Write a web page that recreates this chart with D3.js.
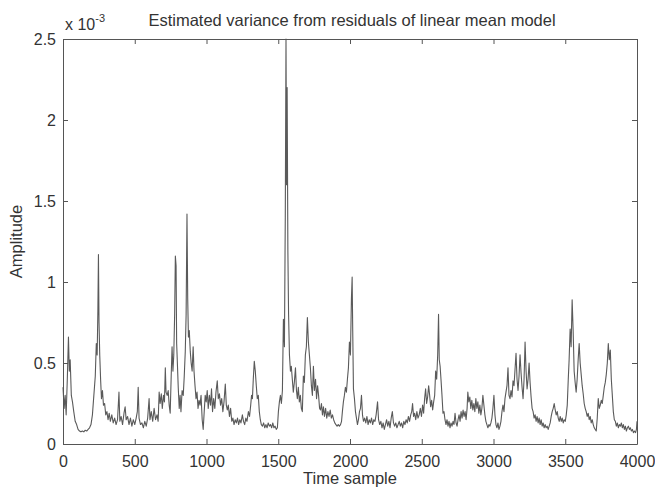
<!DOCTYPE html>
<html>
<head>
<meta charset="utf-8">
<script src="https://cdn.jsdelivr.net/npm/d3@7"></script>
<style>
  body { margin: 0; background: #fff; }
  svg text { font-family: "Liberation Sans", Arial, sans-serif; fill: #333; }
</style>
</head>
<body>
<svg id="chart" width="655" height="491"></svg>
<script>
// values, amplitude in units of 1e-3
const sampleIdx = [0,8,15,22,30,38,44,50,58,66,75,85,95,105,115,125,135,145,155,165,175,185,195,205,215,225,232,238,243,247,251,256,262,268,275,282,290,298,306,314,322,330,340,350,360,370,380,390,396,405,415,425,433,440,450,460,470,480,490,500,510,518,524,530,540,550,560,570,580,590,600,606,615,625,635,645,655,663,670,677,685,692,700,707,713,718,726,733,740,747,754,760,766,772,778,783,788,792,797,803,810,816,822,830,838,845,852,858,864,869,874,880,887,893,900,907,913,920,927,934,941,948,955,962,970,977,984,991,998,1005,1012,1020,1028,1035,1042,1050,1058,1066,1075,1082,1090,1098,1106,1114,1122,1131,1138,1145,1152,1160,1168,1176,1184,1192,1200,1208,1216,1224,1232,1240,1250,1258,1266,1274,1282,1292,1300,1308,1314,1320,1326,1333,1340,1347,1354,1361,1368,1375,1382,1390,1398,1406,1414,1422,1430,1438,1446,1454,1462,1470,1478,1486,1494,1501,1508,1515,1522,1529,1536,1543,1549,1554,1558,1562,1567,1572,1578,1585,1591,1598,1605,1612,1620,1627,1633,1640,1647,1654,1661,1668,1675,1682,1689,1696,1703,1710,1717,1724,1731,1738,1745,1752,1760,1767,1774,1781,1788,1794,1801,1808,1815,1822,1830,1838,1846,1854,1862,1870,1878,1886,1894,1902,1910,1918,1926,1934,1941,1947,1954,1961,1968,1975,1982,1989,1996,2003,2010,2015,2019,2024,2031,2038,2045,2052,2059,2066,2073,2080,2087,2094,2102,2110,2118,2126,2134,2142,2150,2158,2166,2174,2182,2192,2199,2207,2215,2223,2231,2239,2247,2255,2263,2271,2279,2287,2295,2303,2311,2319,2327,2335,2343,2351,2359,2367,2375,2383,2391,2399,2407,2415,2423,2430,2436,2443,2450,2458,2466,2474,2482,2490,2498,2506,2513,2520,2527,2534,2541,2548,2555,2562,2569,2576,2583,2590,2597,2604,2611,2617,2622,2628,2634,2641,2648,2655,2662,2669,2676,2683,2690,2697,2704,2711,2718,2725,2732,2739,2746,2753,2760,2767,2774,2781,2788,2795,2802,2809,2816,2821,2828,2835,2842,2849,2856,2863,2870,2877,2884,2891,2898,2905,2912,2919,2926,2933,2940,2947,2954,2961,2968,2975,2982,2989,2996,3003,3010,3017,3024,3031,3038,3045,3052,3059,3066,3073,3080,3087,3094,3101,3108,3115,3122,3129,3136,3143,3150,3157,3164,3171,3178,3185,3192,3199,3206,3213,3220,3227,3234,3241,3248,3255,3262,3269,3276,3283,3290,3297,3304,3311,3318,3325,3332,3339,3346,3353,3360,3367,3374,3381,3388,3395,3402,3409,3416,3423,3430,3437,3444,3451,3458,3465,3472,3479,3486,3493,3500,3507,3514,3521,3527,3534,3541,3548,3555,3562,3569,3576,3583,3590,3597,3604,3611,3618,3625,3632,3639,3646,3653,3660,3667,3674,3681,3688,3695,3702,3709,3716,3723,3730,3737,3744,3751,3758,3765,3772,3779,3786,3793,3800,3807,3814,3821,3828,3835,3842,3849,3856,3863,3870,3877,3884,3891,3898,3905,3912,3919,3926,3933,3940,3947,3954,3961,3968,3975,3982,3990,3996,4000];
const amplitude = [0.35,0.22,0.30,0.18,0.40,0.66,0.45,0.52,0.30,0.26,0.20,0.14,0.12,0.09,0.08,0.075,0.08,0.075,0.085,0.08,0.09,0.10,0.12,0.18,0.30,0.42,0.62,0.55,0.82,1.17,0.75,0.55,0.40,0.28,0.33,0.24,0.25,0.18,0.20,0.15,0.19,0.14,0.18,0.13,0.16,0.12,0.15,0.32,0.14,0.17,0.12,0.19,0.23,0.15,0.17,0.12,0.16,0.11,0.15,0.12,0.16,0.20,0.35,0.16,0.12,0.13,0.10,0.14,0.11,0.16,0.28,0.15,0.20,0.14,0.22,0.15,0.18,0.14,0.32,0.25,0.31,0.22,0.30,0.26,0.47,0.32,0.30,0.33,0.24,0.19,0.42,0.60,0.45,0.55,0.80,1.16,1.10,0.62,0.50,0.35,0.22,0.30,0.20,0.33,0.30,0.42,0.57,0.80,1.42,0.90,0.66,0.70,0.57,0.50,0.45,0.60,0.45,0.36,0.28,0.32,0.22,0.27,0.24,0.30,0.15,0.09,0.20,0.30,0.26,0.33,0.22,0.30,0.24,0.34,0.20,0.28,0.22,0.32,0.39,0.28,0.31,0.24,0.28,0.20,0.26,0.37,0.24,0.21,0.24,0.17,0.22,0.14,0.16,0.12,0.15,0.13,0.16,0.12,0.15,0.13,0.18,0.14,0.12,0.16,0.14,0.20,0.17,0.24,0.30,0.28,0.40,0.51,0.45,0.36,0.28,0.30,0.20,0.15,0.12,0.11,0.13,0.10,0.12,0.10,0.13,0.11,0.12,0.10,0.13,0.10,0.11,0.09,0.10,0.20,0.26,0.30,0.25,0.33,0.77,0.60,1.40,2.50,1.60,2.20,1.20,0.80,0.55,0.45,0.48,0.40,0.32,0.38,0.47,0.33,0.28,0.35,0.26,0.30,0.22,0.20,0.42,0.38,0.55,0.60,0.78,0.63,0.55,0.47,0.36,0.30,0.48,0.33,0.40,0.28,0.36,0.30,0.22,0.21,0.25,0.18,0.23,0.17,0.22,0.16,0.20,0.17,0.21,0.16,0.18,0.15,0.13,0.12,0.11,0.12,0.11,0.12,0.14,0.20,0.26,0.30,0.35,0.32,0.40,0.47,0.63,0.55,0.90,1.03,0.70,0.34,0.28,0.20,0.16,0.12,0.15,0.20,0.22,0.30,0.18,0.14,0.16,0.13,0.17,0.12,0.15,0.13,0.16,0.12,0.15,0.14,0.18,0.26,0.15,0.12,0.14,0.10,0.13,0.09,0.12,0.15,0.11,0.14,0.10,0.16,0.20,0.13,0.11,0.13,0.10,0.12,0.14,0.11,0.13,0.10,0.14,0.12,0.15,0.13,0.17,0.14,0.18,0.20,0.25,0.17,0.19,0.15,0.20,0.16,0.18,0.22,0.17,0.24,0.19,0.28,0.34,0.25,0.29,0.36,0.30,0.23,0.27,0.21,0.26,0.30,0.45,0.40,0.55,0.80,0.52,0.48,0.40,0.30,0.19,0.20,0.15,0.12,0.15,0.11,0.14,0.10,0.13,0.11,0.14,0.12,0.19,0.13,0.11,0.15,0.18,0.14,0.20,0.16,0.21,0.17,0.20,0.15,0.22,0.32,0.26,0.29,0.22,0.27,0.21,0.25,0.20,0.28,0.22,0.26,0.19,0.24,0.18,0.22,0.30,0.24,0.18,0.14,0.12,0.10,0.12,0.11,0.13,0.16,0.22,0.30,0.18,0.12,0.10,0.13,0.09,0.11,0.14,0.20,0.24,0.20,0.28,0.32,0.36,0.47,0.30,0.28,0.33,0.29,0.39,0.36,0.46,0.56,0.40,0.33,0.42,0.55,0.44,0.35,0.28,0.40,0.63,0.45,0.34,0.40,0.50,0.38,0.29,0.22,0.20,0.16,0.18,0.14,0.17,0.13,0.16,0.12,0.15,0.11,0.13,0.10,0.12,0.10,0.11,0.09,0.11,0.13,0.17,0.20,0.22,0.25,0.21,0.18,0.20,0.16,0.14,0.17,0.14,0.16,0.13,0.15,0.14,0.18,0.24,0.40,0.52,0.71,0.60,0.89,0.70,0.45,0.38,0.32,0.40,0.52,0.62,0.50,0.43,0.36,0.31,0.25,0.22,0.20,0.17,0.19,0.15,0.17,0.13,0.15,0.12,0.10,0.09,0.08,0.16,0.28,0.22,0.24,0.27,0.25,0.30,0.35,0.38,0.43,0.50,0.62,0.52,0.58,0.40,0.30,0.20,0.15,0.14,0.11,0.13,0.10,0.12,0.11,0.13,0.10,0.12,0.09,0.11,0.08,0.10,0.11,0.09,0.10,0.08,0.09,0.07,0.08,0.07,0.09,0.14];

const xTicks = [0, 500, 1000, 1500, 2000, 2500, 3000, 3500, 4000];
const yTicks = [0, 0.5, 1, 1.5, 2, 2.5];

const width = 655, height = 491;
const margin = { top: 39, right: 18, bottom: 47, left: 63 };
const boundWidth = width - margin.left - margin.right;
const boundHeight = height - margin.top - margin.bottom;
const axisColor = "#555";

const svg = d3.select("#chart");
const bounds = svg.append("g")
  .attr("transform", `translate(${margin.left}, ${margin.top})`);

const xScale = d3.scaleLinear().domain([0, 4000]).range([0, boundWidth]);
const yScale = d3.scaleLinear().domain([0, 2.5]).range([boundHeight, 0]);

const series = sampleIdx.map((s, i) => [s, amplitude[i]]);

// the trace
bounds.append("path")
  .datum(series)
  .attr("fill", "none")
  .attr("stroke", "#5a5a5a")
  .attr("stroke-width", 1.1)
  .attr("stroke-linejoin", "round")
  .attr("d", d3.line().x(d => xScale(d[0])).y(d => yScale(d[1])));

// matlab style box with inward ticks
function styleAxis(g) {
  g.select(".domain").attr("stroke", axisColor);
  g.selectAll(".tick line").attr("stroke", axisColor);
  g.selectAll(".tick text").attr("font-size", 16).attr("fill", "#333");
}

bounds.append("g")
  .attr("transform", `translate(0, ${boundHeight})`)
  .call(d3.axisBottom(xScale).tickValues(xTicks).tickSize(-5).tickPadding(9).tickSizeOuter(0).tickFormat(d3.format("d")))
  .call(styleAxis)
  .call(g => g.selectAll(".tick text").attr("dy", "0.9em"));

bounds.append("g")
  .call(d3.axisTop(xScale).tickValues(xTicks).tickSize(-5).tickSizeOuter(0).tickFormat(""))
  .call(styleAxis);

bounds.append("g")
  .call(d3.axisLeft(yScale).tickValues(yTicks).tickSize(-5).tickPadding(7).tickSizeOuter(0).tickFormat(d3.format("")))
  .call(styleAxis);

bounds.append("g")
  .attr("transform", `translate(${boundWidth}, 0)`)
  .call(d3.axisRight(yScale).tickValues(yTicks).tickSize(-5).tickSizeOuter(0).tickFormat(""))
  .call(styleAxis);

// exponent label
const expo = svg.append("text")
  .attr("x", margin.left + 2)
  .attr("y", 30)
  .attr("font-size", 16);
expo.append("tspan").text("x 10");
expo.append("tspan").attr("font-size", 11).attr("dy", -8).text("-3");

svg.append("text")
  .attr("x", margin.left + boundWidth / 2 + 2)
  .attr("y", 26)
  .attr("text-anchor", "middle")
  .attr("font-size", 16.5)
  .text("Estimated variance from residuals of linear mean model");

svg.append("text")
  .attr("x", margin.left + boundWidth / 2)
  .attr("y", 484)
  .attr("text-anchor", "middle")
  .attr("font-size", 16.5)
  .text("Time sample");

svg.append("text")
  .attr("transform", `translate(22, ${margin.top + boundHeight / 2}) rotate(-90)`)
  .attr("text-anchor", "middle")
  .attr("font-size", 16.5)
  .text("Amplitude");
</script>
</body>
</html>
